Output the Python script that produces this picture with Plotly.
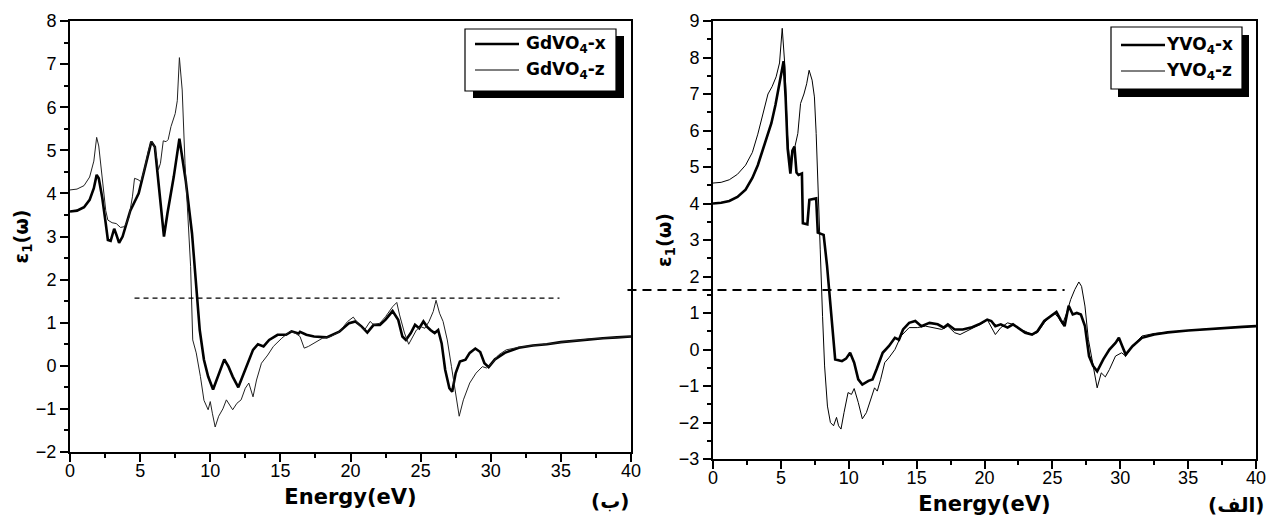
import plotly.graph_objects as go

# ---------------- data: epsilon_1(omega) versus photon energy ----------------
# GdVO4, polarisation along x (thick) and z (thin): (energy eV, eps1)
gdvo4_x = [
    (0, 3.58), (0.5, 3.6), (1.0, 3.68), (1.4, 3.85), (1.7, 4.12), (1.9, 4.43),
    (2.05, 4.35), (2.3, 3.9), (2.55, 3.3), (2.7, 2.92), (2.9, 2.9), (3.15, 3.18),
    (3.3, 3.05), (3.5, 2.85), (3.75, 3.0), (4.3, 3.6), (4.9, 4.0), (5.3, 4.54),
    (5.8, 5.2), (6.05, 5.08), (6.35, 4.15), (6.7, 3.0), (6.95, 3.54), (7.4, 4.39),
    (7.8, 5.27), (8.25, 4.3), (8.7, 3.07), (9.0, 1.92), (9.25, 0.83), (9.55, 0.14),
    (9.85, -0.25), (10.2, -0.55), (10.45, -0.32), (10.75, -0.09), (11.0, 0.15),
    (11.3, -0.02), (11.6, -0.25), (12.0, -0.5), (12.35, -0.21), (12.6, -0.02),
    (13.05, 0.37), (13.4, 0.5), (13.8, 0.45), (14.2, 0.6), (14.8, 0.72), (15.4, 0.72),
    (15.8, 0.8), (16.3, 0.75), (16.4, 0.79), (16.85, 0.72), (17.4, 0.68), (18.3, 0.66),
    (19.2, 0.79), (19.9, 0.99), (20.35, 1.03), (20.8, 0.91), (21.2, 0.77), (21.65, 0.95),
    (22.1, 0.95), (22.5, 1.07), (23.0, 1.27), (23.4, 1.07), (23.7, 0.68), (23.95, 0.6),
    (24.3, 0.76), (24.6, 0.95), (24.9, 0.87), (25.2, 1.03), (25.45, 0.91), (25.7, 0.83),
    (26.0, 0.76), (26.25, 0.83), (26.5, 0.52), (26.75, -0.09), (27.05, -0.52),
    (27.25, -0.6), (27.5, -0.17), (27.8, 0.1), (28.2, 0.14), (28.5, 0.3), (28.9, 0.4),
    (29.25, 0.32), (29.55, 0.06), (29.85, -0.03), (30.3, 0.15), (31.0, 0.3), (32.0, 0.42),
    (33.0, 0.47), (34.0, 0.5), (35.0, 0.55), (36.0, 0.58), (37.0, 0.62), (38.0, 0.64),
    (39.0, 0.66), (40.0, 0.68),
]
gdvo4_z = [
    (0, 4.08), (0.5, 4.1), (1.0, 4.18), (1.4, 4.38), (1.7, 4.75), (1.9, 5.3),
    (2.05, 5.1), (2.3, 4.4), (2.55, 3.6), (2.7, 3.38), (3.0, 3.32), (3.3, 3.3),
    (3.6, 3.21), (3.9, 3.23), (4.2, 3.45), (4.45, 3.92), (4.6, 4.35), (4.85, 4.32),
    (5.05, 4.27), (5.3, 4.55), (5.6, 5.0), (5.8, 5.21), (6.05, 5.08), (6.3, 4.55),
    (6.45, 4.7), (6.65, 5.22), (6.85, 5.2), (7.0, 5.25), (7.2, 5.55), (7.5, 5.85),
    (7.65, 6.15), (7.8, 7.15), (8.0, 6.4), (8.2, 4.7), (8.4, 3.6), (8.6, 2.3),
    (8.75, 0.6), (9.0, 0.3), (9.3, -0.25), (9.55, -0.8), (9.85, -1.02), (10.0, -0.83),
    (10.15, -1.1), (10.35, -1.42), (10.6, -1.17), (10.9, -1.0), (11.15, -0.79),
    (11.4, -0.92), (11.6, -1.02), (11.9, -0.87), (12.2, -0.79), (12.5, -0.52),
    (12.75, -0.4), (13.05, -0.72), (13.3, -0.33), (13.65, 0.06), (14.1, 0.25),
    (14.5, 0.45), (15.1, 0.64), (15.7, 0.8), (16.1, 0.75), (16.4, 0.68), (16.7, 0.41),
    (17.0, 0.45), (17.4, 0.52), (18.0, 0.64), (18.6, 0.68), (19.2, 0.79), (19.8, 1.03),
    (20.2, 1.13), (20.6, 0.95), (21.0, 0.83), (21.4, 1.03), (21.65, 0.95), (22.1, 0.99),
    (22.5, 1.14), (23.0, 1.37), (23.3, 1.47), (23.5, 1.18), (23.85, 0.76), (24.15, 0.5),
    (24.45, 0.68), (24.7, 0.83), (25.0, 0.91), (25.3, 0.87), (25.6, 1.03), (25.9, 1.26),
    (26.1, 1.52), (26.35, 1.22), (26.6, 1.03), (26.9, 0.6), (27.2, -0.02), (27.5, -0.63),
    (27.75, -1.17), (28.05, -0.79), (28.5, -0.4), (28.95, -0.17), (29.4, -0.02),
    (29.7, -0.05), (30.1, 0.06), (30.55, 0.25), (31.1, 0.37), (32.0, 0.43), (33.0, 0.47),
    (34.0, 0.5), (35.0, 0.55), (36.0, 0.58), (37.0, 0.62), (38.0, 0.64), (39.0, 0.66),
    (40.0, 0.68),
]

# YVO4, polarisation along x (thick) and z (thin)
yvo4_x = [
    (0, 4.0), (0.6, 4.02), (1.2, 4.07), (1.8, 4.18), (2.4, 4.38), (2.9, 4.7),
    (3.3, 5.05), (3.7, 5.5), (4.0, 5.85), (4.3, 6.2), (4.6, 6.7), (4.9, 7.3),
    (5.1, 7.7), (5.2, 7.9), (5.35, 6.9), (5.5, 5.5), (5.7, 4.82), (5.85, 5.45),
    (6.0, 5.56), (6.15, 4.85), (6.3, 4.78), (6.55, 4.82), (6.62, 3.46), (6.95, 3.43),
    (7.1, 4.1), (7.6, 4.14), (7.72, 3.2), (8.15, 3.14), (8.4, 2.3), (8.7, 0.95),
    (9.0, -0.27), (9.5, -0.32), (9.8, -0.25), (10.1, -0.09), (10.4, -0.36), (10.7, -0.82),
    (11.0, -0.96), (11.45, -0.86), (11.75, -0.82), (12.05, -0.54), (12.5, -0.09),
    (12.95, 0.09), (13.4, 0.32), (13.7, 0.27), (14.0, 0.55), (14.45, 0.73), (14.9, 0.78),
    (15.35, 0.64), (15.95, 0.73), (16.55, 0.69), (17.0, 0.6), (17.3, 0.69), (17.8, 0.55),
    (18.4, 0.55), (19.0, 0.6), (19.6, 0.69), (20.2, 0.82), (20.5, 0.78), (20.8, 0.64),
    (21.2, 0.69), (21.7, 0.6), (22.1, 0.69), (22.6, 0.55), (23.0, 0.46), (23.5, 0.41),
    (23.9, 0.5), (24.4, 0.78), (24.85, 0.91), (25.3, 1.03), (25.6, 0.82), (25.9, 0.64),
    (26.2, 1.2), (26.5, 0.96), (26.8, 1.0), (27.1, 0.96), (27.4, 0.64), (27.7, -0.18),
    (28.0, -0.45), (28.3, -0.6), (28.75, -0.27), (29.2, 0.0), (29.65, 0.18), (29.9, 0.32),
    (30.15, 0.09), (30.4, -0.14), (30.9, 0.09), (31.6, 0.32), (32.5, 0.41), (33.5, 0.47),
    (35.0, 0.52), (36.0, 0.55), (37.0, 0.58), (38.0, 0.6), (39.0, 0.62), (40.0, 0.64),
]
yvo4_z = [
    (0, 4.56), (0.6, 4.58), (1.2, 4.65), (1.8, 4.8), (2.4, 5.05), (2.9, 5.4),
    (3.3, 5.9), (3.7, 6.45), (4.05, 7.0), (4.35, 7.2), (4.65, 7.47), (4.9, 7.85),
    (5.1, 8.8), (5.3, 7.74), (5.48, 5.92), (5.65, 5.1), (5.85, 5.47), (6.0, 5.5),
    (6.25, 5.92), (6.45, 6.74), (6.7, 7.0), (6.9, 7.28), (7.08, 7.65), (7.3, 7.38),
    (7.47, 6.92), (7.6, 5.92), (7.75, 4.1), (7.9, 2.73), (8.07, 0.91), (8.22, -0.45),
    (8.43, -1.55), (8.65, -2.0), (8.88, -2.09), (9.1, -1.86), (9.25, -2.09), (9.43, -2.18),
    (9.65, -1.73), (9.95, -1.18), (10.2, -1.23), (10.4, -1.07), (10.7, -1.45), (11.0, -1.9),
    (11.3, -1.73), (11.6, -1.36), (11.9, -1.05), (12.1, -1.14), (12.35, -0.82),
    (12.65, -0.36), (12.95, -0.23), (13.4, 0.0), (13.85, 0.37), (14.45, 0.6), (15.05, 0.6),
    (15.65, 0.64), (16.25, 0.6), (16.85, 0.55), (17.3, 0.64), (17.8, 0.46), (18.2, 0.41),
    (18.7, 0.5), (19.3, 0.6), (19.9, 0.73), (20.2, 0.82), (20.5, 0.6), (20.8, 0.41),
    (21.2, 0.6), (21.7, 0.73), (22.1, 0.69), (22.6, 0.55), (23.0, 0.5), (23.5, 0.41),
    (23.9, 0.46), (24.4, 0.73), (24.85, 0.91), (25.15, 1.0), (25.45, 0.87), (25.75, 0.69),
    (26.05, 1.0), (26.35, 1.37), (26.65, 1.64), (26.95, 1.85), (27.15, 1.73), (27.4, 1.19),
    (27.65, 0.28), (28.0, -0.45), (28.3, -1.05), (28.6, -0.64), (28.9, -0.75), (29.2, -0.55),
    (29.65, -0.18), (30.1, -0.09), (30.4, -0.18), (30.9, 0.09), (31.6, 0.37), (32.5, 0.44),
    (33.5, 0.48), (35.0, 0.52), (36.0, 0.55), (37.0, 0.58), (38.0, 0.6), (39.0, 0.62),
    (40.0, 0.64),
]

# dashed reference levels: (eps1 level, start energy, end energy)
gd_ref_line = (1.57, 4.6, 34.9)
y_ref_line = (1.63, -6.3, 25.9)

gd_names = ["GdVO<sub>4</sub>-x", "GdVO<sub>4</sub>-z"]
y_names = ["YVO<sub>4</sub>-x", "YVO<sub>4</sub>-z"]
x_title = "Energy(eV)"
y_title = "ε<sub>1</sub>(ω)"
panel_tags = ["(ب)", "(الف)"]

# ---------------- layout helpers ----------------
W, H = 1267, 516
BOLD = "DejaVu Sans"
PLAIN = "Arial, Liberation Sans, sans-serif"


def px(x):
    return x / W


def py(y):
    return 1 - y / H


left_dom_x = [px(70), px(631)]
left_dom_y = [py(452), py(21)]
right_dom_x = [px(713), px(1256)]
right_dom_y = [py(459), py(21)]


def split(pairs):
    return [p[0] for p in pairs], [p[1] for p in pairs]


fig = go.Figure()
series = [
    (gdvo4_x, "x", "y", 2.6, "black", gd_names[0]),
    (gdvo4_z, "x", "y", 1.0, "#222222", gd_names[1]),
    (yvo4_x, "x2", "y2", 2.6, "black", y_names[0]),
    (yvo4_z, "x2", "y2", 1.0, "black", y_names[1]),
]
for pairs, xa, ya, w, col, name in series:
    ex, ev = split(pairs)
    fig.add_trace(go.Scatter(x=ex, y=ev, xaxis=xa, yaxis=ya, mode="lines",
                             line=dict(color=col, width=w), name=name,
                             showlegend=False, hoverinfo="skip"))

axis_common = dict(
    showgrid=False, zeroline=False, showline=True, linecolor="black", linewidth=2,
    mirror=True, ticks="outside", ticklen=8, tickwidth=2, tickcolor="black",
    automargin=False,
    tickfont=dict(family=PLAIN, size=18, color="black"),
)
xcommon = dict(axis_common, range=[0, 40], tick0=0, dtick=5, autorange=False,
               ticklabelstandoff=-7,
               minor=dict(dtick=2.5, ticks="outside", ticklen=4, tickwidth=1.5,
                          tickcolor="black"),
               title=dict(text=x_title, font=dict(family=BOLD, size=21, weight="bold",
                                                  color="black"), standoff=10))
ycommon = dict(axis_common, dtick=1, autorange=False,
               minor=dict(dtick=0.5, ticks="outside", ticklen=4, tickwidth=1.5,
                          tickcolor="black"),
               title=dict(text=y_title, font=dict(family=BOLD, size=19, weight="bold",
                                                  color="black"), standoff=2))

fig.update_layout(
    template="none",
    width=W, height=H, autosize=False,
    margin=dict(l=0, r=0, t=0, b=0, pad=0),
    paper_bgcolor="white", plot_bgcolor="white", showlegend=False,
    xaxis=dict(xcommon, domain=left_dom_x, anchor="y"),
    yaxis=dict(ycommon, domain=left_dom_y, anchor="x", range=[-2, 8], tick0=-2),
    xaxis2=dict(xcommon, domain=right_dom_x, anchor="y2"),
    yaxis2=dict(ycommon, domain=right_dom_y, anchor="x2", range=[-3, 9], tick0=-3),
)

# dashed reference lines
lvl, e0, e1 = gd_ref_line
fig.add_shape(type="line", xref="x", yref="y", x0=e0, x1=e1, y0=lvl, y1=lvl,
              line=dict(color="black", width=1.3, dash="5px,4px"))


def right_paper_x(e):
    return right_dom_x[0] + (e / 40.0) * (right_dom_x[1] - right_dom_x[0])


lvl, e0, e1 = y_ref_line
fig.add_shape(type="line", xref="paper", yref="y2", x0=right_paper_x(e0),
              x1=right_paper_x(e1), y0=lvl, y1=lvl,
              line=dict(color="black", width=2, dash="9px,6px"))


# legend boxes with a drop shadow
def legend_box(x0, y0, x1, y1, sx, sy, sample_x0, sample_x1, text_x, rows, names):
    fig.add_shape(type="rect", xref="paper", yref="paper",
                  x0=px(x0 + sx), x1=px(x1 + sx), y0=py(y0 + sy), y1=py(y1 + sy),
                  line=dict(width=0), fillcolor="black")
    fig.add_shape(type="rect", xref="paper", yref="paper",
                  x0=px(x0), x1=px(x1), y0=py(y0), y1=py(y1),
                  line=dict(color="black", width=1.2), fillcolor="white")
    for (ry, w), name in zip(rows, names):
        fig.add_shape(type="line", xref="paper", yref="paper",
                      x0=px(sample_x0), x1=px(sample_x1), y0=py(ry), y1=py(ry),
                      line=dict(color="black", width=w))
        fig.add_annotation(x=px(text_x), y=py(ry), xref="paper", yref="paper",
                           xanchor="left", yanchor="middle", showarrow=False,
                           text=name, font=dict(family=BOLD, size=17, weight="bold",
                                                color="black"))


legend_box(465, 29, 616, 91, 8, 7, 475, 519, 524, [(44, 2.6), (70, 1.0)], gd_names)
legend_box(1111, 27, 1242, 89, 7, 8, 1121, 1165, 1164, [(45, 2.6), (71, 1.0)], y_names)

# panel tags under the right end of each x axis
for tag, (tx, ty) in zip(panel_tags, [(610, 501), (1236, 505)]):
    fig.add_annotation(x=px(tx), y=py(ty), xref="paper", yref="paper", showarrow=False,
                       xanchor="center", yanchor="middle", text=tag,
                       font=dict(family=BOLD, size=20, weight="bold", color="black"))

fig.write_html("out.html")
